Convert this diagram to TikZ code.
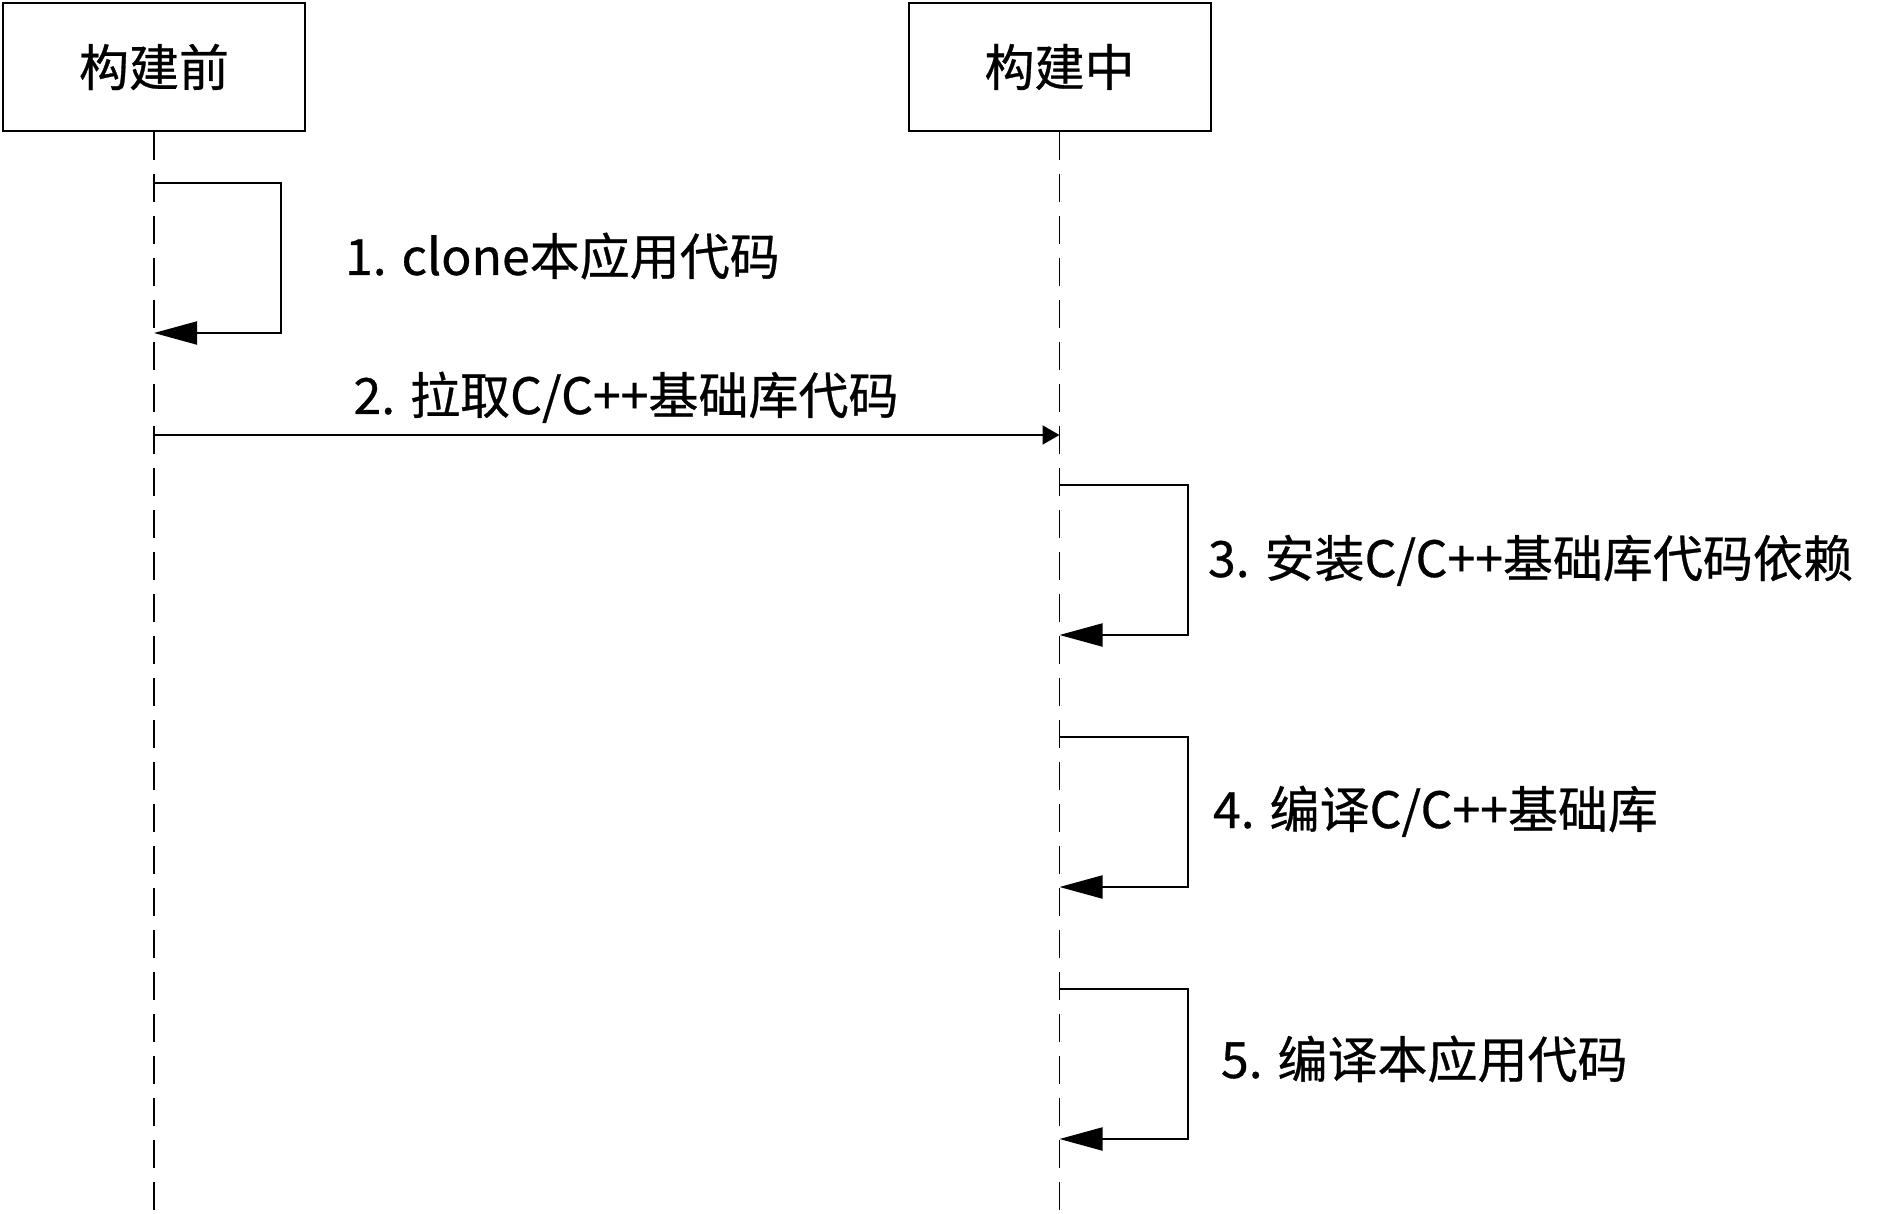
\documentclass[tikz,border=0pt]{standalone}
\usepackage{fontspec}
\setmainfont[FakeBold=0.6]{Noto Sans CJK SC}
\usetikzlibrary{arrows.meta}
\def\width{1904}
\def\hauteur{1214}

\begin{document}
\begin{tikzpicture}[x=1pt, y=-1pt, line width=2pt,
  every node/.style={font=\fontsize{50}{60}\selectfont},
  actor/.style={draw, minimum width=302pt, minimum height=128pt, inner sep=0pt},
  lifeline/.style={line width=1.5pt, dash pattern=on 28pt off 14pt},
  selfmsg/.style={-{Triangle[length=43pt,width=23pt]}},
  callmsg/.style={-{Triangle[length=17pt,width=19pt]}},
  msglabel/.style={anchor=base west, inner sep=0pt}]
\useasboundingbox (0,0) rectangle (\width,\hauteur);

% participants
\node[actor] (pre) at (154,67) {构建前};
\node[actor] (mid) at (1059.5,67) {构建中};

% lifelines
\coordinate (end) at (0,1212);
\draw[lifeline] (pre.south) -- (pre.south |- end);
\draw[lifeline] (mid.south) -- (mid.south |- end);

% messages
\draw[selfmsg] (pre.south |- 0,183) -- ++(127,0) -- ++(0,150) -- (pre.south |- 0,333);
\node[msglabel] (l1) at (344,275) {1. clone本应用代码};

\draw[callmsg] (pre.south |- 0,435) -- (mid.south |- 0,435);
\node[anchor=base, inner sep=0pt] (l2) at (626,414) {2. 拉取C/C++基础库代码};

\draw[selfmsg] (mid.south |- 0,485) -- ++(128,0) -- ++(0,150) -- (mid.south |- 0,635);
\node[msglabel] (l3) at (1207,577) {3. 安装C/C++基础库代码依赖};

\draw[selfmsg] (mid.south |- 0,737) -- ++(128,0) -- ++(0,150) -- (mid.south |- 0,887);
\node[msglabel] (l4) at (1212,828) {4. 编译C/C++基础库};

\draw[selfmsg] (mid.south |- 0,989) -- ++(128,0) -- ++(0,150) -- (mid.south |- 0,1139);
\node[msglabel] (l5) at (1220,1078) {5. 编译本应用代码};
\end{tikzpicture}
\end{document}
